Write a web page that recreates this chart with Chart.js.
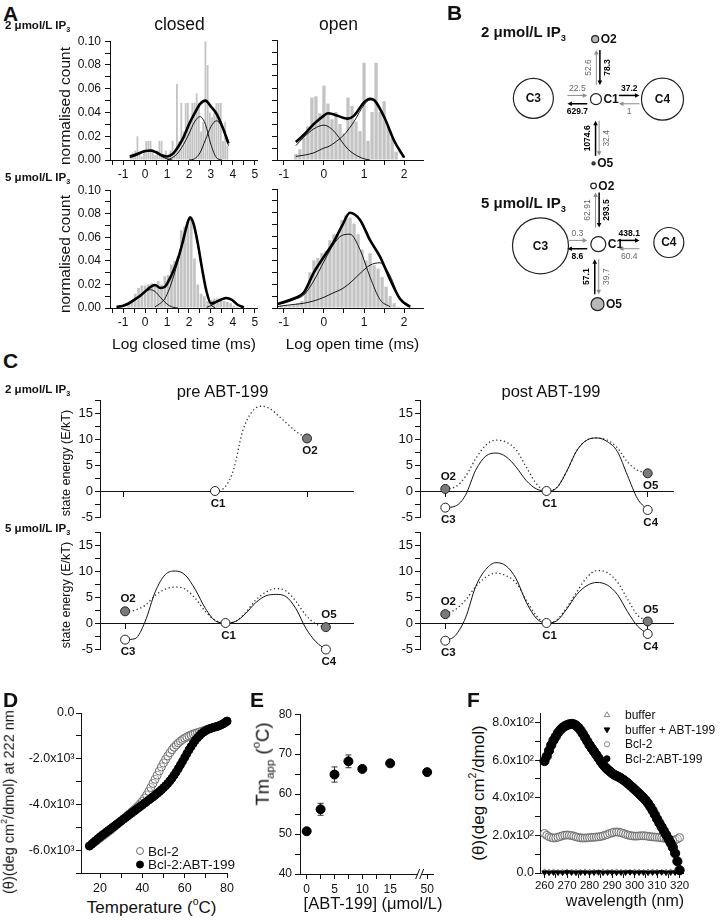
<!DOCTYPE html>
<html>
<head>
<meta charset="utf-8">
<script src="https://cdn.jsdelivr.net/npm/chart.js@4.4.1/dist/chart.umd.min.js"></script>
<style>
  html, body { margin: 0; padding: 0; background: #fff; }
  body { position: relative; width: 721px; height: 922px; overflow: hidden; font-family: "Liberation Sans", Arial, sans-serif; color: #111; }
  canvas { position: absolute; }
  .t { position: absolute; white-space: nowrap; line-height: 1; }
  .sb { font-size: 62%; position: relative; top: 0.4em; }
  .sp { font-size: 62%; position: relative; top: -0.75em; }
</style>
</head>
<body>
<script>
// --- A: dwell-time histograms (log10 dwell time, ms) ---
const closed2BinX = [-0.65, -0.55, -0.45, -0.35, -0.25, -0.15, -0.05, 0.05, 0.15, 0.25, 0.35, 0.45, 0.55, 0.65, 0.75, 0.85, 0.95, 1.05, 1.15, 1.25, 1.35, 1.45, 1.55, 1.65, 1.75, 1.85, 1.95, 2.05, 2.15, 2.25, 2.35, 2.45, 2.55, 2.65, 2.75, 2.85, 2.95, 3.05, 3.15, 3.25, 3.35, 3.45, 3.55, 3.65, 3.75];
const closed2BinY = [0.005, 0.006, 0.008, 0.020, 0.006, 0.003, 0.008, 0.016, 0.016, 0.016, 0.008, 0.004, 0.008, 0.016, 0.016, 0.004, 0.008, 0.004, 0.008, 0.016, 0.008, 0.064, 0.016, 0.048, 0.024, 0.048, 0.048, 0.032, 0.048, 0.048, 0.056, 0.048, 0.024, 0.032, 0.100, 0.080, 0.040, 0.036, 0.040, 0.048, 0.048, 0.048, 0.016, 0.032, 0.012];
const closed2FitX = [-0.7, -0.5, -0.25, 0, 0.25, 0.5, 0.75, 1.0, 1.25, 1.5, 1.75, 2.0, 2.25, 2.5, 2.75, 3.0, 3.25, 3.5, 3.8];
const closed2Total = [0.003, 0.004, 0.006, 0.0075, 0.008, 0.0065, 0.004, 0.003, 0.005, 0.011, 0.019, 0.030, 0.039, 0.047, 0.050, 0.045, 0.039, 0.029, 0.014];
const closed2Comp1 = [0.002, 0.003, 0.005, 0.007, 0.0075, 0.006, 0.003, 0.001, 0, null, null, null, null, null, null, null, null, null, null];
const closed2Comp2 = [null, null, null, null, null, null, null, 0, 0.002, 0.006, 0.013, 0.022, 0.032, 0.0365, 0.030, 0.013, 0.002, 0, null];
const closed2Comp3 = [null, null, null, null, null, null, null, null, null, null, null, 0, 0.001, 0.006, 0.017, 0.028, 0.033, 0.028, 0.012];

const open2BinX = [-0.7, -0.6, -0.5, -0.4, -0.3, -0.2, -0.1, 0, 0.1, 0.2, 0.3, 0.4, 0.5, 0.6, 0.7, 0.8, 0.9, 1.0, 1.1, 1.2, 1.3, 1.4, 1.5, 1.6, 1.7, 1.8];
const open2BinY = [0.005, 0.009, 0.0185, 0.028, 0.052, 0.053, 0.039, 0.062, 0.047, 0.034, 0.040, 0.030, 0.022, 0.052, 0.045, 0.032, 0.024, 0.081, 0.016, 0.040, 0.081, 0.040, 0.049, 0.028, 0.018, 0.007];
const open2FitX = [-0.7, -0.5, -0.25, 0, 0.1, 0.25, 0.5, 0.6, 0.75, 1.0, 1.15, 1.25, 1.5, 1.75, 2.0];
const open2Total = [0.015, 0.021, 0.030, 0.037, 0.039, 0.038, 0.035, 0.0345, 0.037, 0.048, 0.051, 0.050, 0.036, 0.016, 0.002];
const open2Comp1 = [0.012, 0.019, 0.026, 0.029, 0.028, 0.024, 0.013, 0.009, 0.005, 0.001, 0, null, null, null, null];
const open2Comp2 = [0.003, 0.004, 0.006, 0.010, 0.011, 0.014, 0.021, 0.025, 0.032, 0.046, 0.050, 0.050, 0.036, 0.016, 0.002];

const closed5BinX = [-0.75, -0.6, -0.45, -0.3, -0.15, 0, 0.15, 0.3, 0.45, 0.6, 0.75, 0.9, 1.05, 1.2, 1.35, 1.5, 1.65, 1.8, 1.95, 2.1, 2.25, 2.4, 2.55, 2.7, 2.85, 3.0, 3.15, 3.3, 3.45, 3.6, 3.75, 3.9, 4.05, 4.2];
const closed5BinY = [0.003, 0.006, 0.012, 0.017, 0.019, 0.019, 0.020, 0.021, 0.020, 0.023, 0.020, 0.027, 0.028, 0.037, 0.040, 0.044, 0.066, 0.069, 0.071, 0.076, 0.042, 0.020, 0.012, 0.010, 0.006, 0.007, 0.008, 0.008, 0.007, 0.006, 0.005, 0.004, 0.002, 0.001];
const closed5FitX = [-1.3, -1.0, -0.75, -0.5, -0.25, 0, 0.25, 0.45, 0.7, 0.9, 1.1, 1.3, 1.5, 1.7, 1.9, 2.05, 2.2, 2.4, 2.6, 2.8, 3.0, 3.2, 3.45, 3.7, 3.95, 4.2, 4.5];
const closed5Total = [0.001, 0.002, 0.004, 0.007, 0.010, 0.014, 0.018, 0.0195, 0.017, 0.018, 0.024, 0.032, 0.042, 0.055, 0.070, 0.077, 0.072, 0.055, 0.033, 0.014, 0.004, 0.005, 0.007, 0.0085, 0.007, 0.003, 0.0005];
const closed5Comp1 = [0.0005, 0.0015, 0.003, 0.006, 0.010, 0.014, 0.0155, 0.014, 0.009, 0.005, 0.002, 0.0005, 0, null, null, null, null, null, null, null, null, null, null, null, null, null, null];
const closed5Comp2 = [null, null, null, null, null, null, null, 0.001, 0.004, 0.008, 0.016, 0.027, 0.040, 0.054, 0.069, 0.076, 0.071, 0.054, 0.032, 0.013, 0.003, 0, null, null, null, null, null];
const closed5Comp3 = [null, null, null, null, null, null, null, null, null, null, null, null, null, null, null, null, null, null, null, 0.0005, 0.002, 0.004, 0.007, 0.008, 0.0065, 0.003, 0.0005];

const open5BinX = [-1.05, -0.95, -0.85, -0.75, -0.65, -0.55, -0.45, -0.35, -0.25, -0.15, -0.05, 0.05, 0.15, 0.25, 0.35, 0.45, 0.55, 0.65, 0.75, 0.85, 0.95, 1.05, 1.15, 1.25, 1.35, 1.45, 1.55, 1.65, 1.75, 1.85];
const open5BinY = [0.002, 0.002, 0.002, 0.003, 0.004, 0.006, 0.014, 0.030, 0.040, 0.042, 0.046, 0.048, 0.057, 0.062, 0.062, 0.074, 0.078, 0.076, 0.071, 0.062, 0.049, 0.040, 0.046, 0.036, 0.033, 0.026, 0.018, 0.010, 0.004, 0.001];
const open5FitX = [-1.2, -1.0, -0.75, -0.5, -0.25, 0, 0.25, 0.45, 0.65, 0.9, 1.15, 1.4, 1.65, 1.9, 2.15];
const open5Total = [0.003, 0.005, 0.008, 0.013, 0.030, 0.043, 0.056, 0.069, 0.080, 0.074, 0.057, 0.043, 0.024, 0.0075, 0.001];
const open5Comp1 = [0.003, 0.004, 0.007, 0.011, 0.023, 0.039, 0.054, 0.061, 0.062, 0.049, 0.026, 0.007, 0.001, null, null];
const open5Comp2 = [0.001, 0.002, 0.003, 0.004, 0.006, 0.009, 0.013, 0.016, 0.021, 0.029, 0.036, 0.038, 0.027, 0.007, 0.0005];

const countTicks = [0, 0.01, 0.02, 0.03, 0.04, 0.05, 0.06, 0.07, 0.08, 0.09, 0.1];
const countLabels = [0, 0.02, 0.04, 0.06, 0.08, 0.1];
const closedTicks = [-1.5, -1, -0.5, 0, 0.5, 1, 1.5, 2, 2.5, 3, 3.5, 4, 4.5, 5];
const closedLabels = [-1, 0, 1, 2, 3, 4, 5];
const openTicks = [-1, -0.5, 0, 0.5, 1, 1.5, 2];
const openLabels = [-1, 0, 1, 2];

// --- B: rate constants (s-1), C1 <-> partner ---
const partners = ['O2', 'C3', 'C4', 'O5'];
const fromC1at2 = [52.6, 629.7, 37.2, 32.4];
const toC1at2 = [78.3, 22.5, 1, 1074.6];
const fromC1at5 = [62.91, 8.6, 438.1, 39.7];
const toC1at5 = [293.5, 0.3, 60.4, 57.1];

// --- C: free-energy landscapes (E/kT) ---
const pre2Names = ['C1', 'O2'];
const pre2Coord = [0, 1];
const pre2Energy = [0, 10.1];
const stateNames = ['O2', 'C3', 'C1', 'O5', 'C4'];
const stateCoord = [-1, -1, 0, 1, 1];
const post2Energy = [0.4, -3.2, 0, 3.4, -3.65];
const pre5Energy = [2.25, -3.2, 0, -0.8, -5.1];
const post5Energy = [1.7, -3.4, 0, 0.3, -2.1];
const pathX = [-1, -0.9, -0.8, -0.7, -0.6, -0.5, -0.4, -0.3, -0.2, -0.1, 0, 0.1, 0.2, 0.3, 0.4, 0.5, 0.6, 0.7, 0.8, 0.9, 1];
const pre2OpenPath = [null, null, null, null, null, null, null, null, null, null, 0, 0.6, 4.0, 11.5, 15.2, 16.3, 15.8, 14.3, 12.7, 11.2, 10.1];
const post2ClosedPath = [-3.2, -2.9, -0.8, 4.0, 6.7, 7.3, 6.6, 4.6, 2.0, 0.4, 0, 0.6, 3.8, 7.8, 9.8, 10.2, 9.5, 7.6, 3.0, -1.5, -3.65];
const post2OpenPath = [0.4, 0.8, 2.8, 6.2, 8.8, 9.8, 9.4, 7.9, 4.6, 1.4, 0, 0.6, 3.8, 7.8, 9.8, 10.2, 9.8, 8.3, 5.6, 4.0, 3.4];
const pre5ClosedPath = [-3.2, -3.0, 0.3, 6.0, 9.3, 10.0, 9.2, 6.4, 2.8, 0.4, 0, 0.3, 1.8, 3.9, 5.2, 5.5, 5.1, 2.8, -1.0, -3.6, -5.1];
const pre5OpenPath = [2.25, 2.5, 3.4, 5.3, 6.5, 6.9, 6.5, 4.7, 2.2, 0.5, 0, 0.3, 2.0, 4.4, 5.9, 6.6, 6.2, 4.2, 1.5, -0.2, -0.8];
const post5ClosedPath = [-3.4, -2.4, 1.0, 7.0, 10.3, 11.6, 11.0, 8.5, 4.0, 0.9, 0, 0.4, 2.7, 5.5, 7.2, 7.8, 7.3, 5.5, 2.2, -0.6, -2.1];
const post5OpenPath = [1.7, 2.6, 4.4, 7.0, 8.8, 9.6, 9.1, 7.7, 4.4, 1.4, 0, 0.6, 3.0, 6.0, 8.8, 10.1, 9.7, 7.9, 4.6, 1.5, 0.3];
const energyTicks = [-5, -2.5, 0, 2.5, 5, 7.5, 10, 12.5, 15, 17.5];
const energyLabels = [-5, 0, 5, 10, 15];

// --- D: thermal melt at 222 nm ---
const dTemp = [15, 16, 17, 18, 19, 20, 21, 22, 23, 24, 25, 26, 27, 28, 29, 30, 31, 32, 33, 34, 35, 36, 37, 38, 39, 40, 41, 42, 43, 44, 45, 46, 47, 48, 49, 50, 51, 52, 53, 54, 55, 56, 57, 58, 59, 60, 61, 62, 63, 64, 65, 66, 67, 68, 69, 70, 71, 72, 73, 74, 75, 76, 77, 78, 79, 80];
const dBcl2 = [-5820, -5750, -5680, -5610, -5540, -5470, -5400, -5330, -5260, -5190,
  -5120, -5040, -4960, -4880, -4800, -4720, -4640, -4560, -4480, -4400,
  -4320, -4240, -4160, -4070, -3970, -3860, -3730, -3590, -3430, -3260,
  -3080, -2900, -2720, -2540, -2360, -2190, -2030, -1880, -1740, -1610,
  -1500, -1400, -1310, -1230, -1160, -1100, -1050, -1000, -960, -920,
  -890, -860, -830, -800, -770, -740, -710, -680, -650, -620,
  -590, -560, -520, -480, -430, -380];
const dBcl2Abt = [-5820, -5740, -5660, -5580, -5500, -5420, -5350, -5280, -5210, -5140,
  -5070, -5000, -4930, -4860, -4790, -4720, -4650, -4580, -4510, -4440,
  -4370, -4300, -4230, -4160, -4090, -4020, -3950, -3880, -3810, -3740,
  -3670, -3600, -3520, -3440, -3360, -3270, -3180, -3080, -2970, -2850,
  -2720, -2580, -2430, -2270, -2110, -1950, -1780, -1620, -1470, -1330,
  -1200, -1090, -990, -900, -830, -770, -720, -680, -650, -620,
  -600, -570, -530, -480, -420, -350];
const dTicksY = [-7000, -6000, -5000, -4000, -3000, -2000, -1000, 0];
const dLabelsY = [-6000, -4000, -2000, 0];
const dTicksX = [20, 30, 40, 50, 60, 70, 80];
const dLabelsX = [20, 40, 60, 80];

// --- E: apparent Tm vs ABT-199 ---
const eConc = [0, 2.5, 5, 7.5, 10, 15, 50];
const eTm = [50.7, 56.2, 64.9, 68.2, 66.3, 67.7, 65.5];
const eErr = [0.5, 1.5, 1.9, 1.6, 0.4, 0.4, 0.4];
const eLabelsX = [0, 5, 10, 15, 50];
const eTicksY = [40, 45, 50, 55, 60, 65, 70, 75, 80];
const eLabelsY = [40, 50, 60, 70, 80];

// --- F: near-UV CD spectra ---
const fWave = [260, 261, 262, 263, 264, 265, 266, 267, 268, 269, 270, 271, 272, 273, 274, 275, 276, 277, 278, 279, 280, 281, 282, 283, 284, 285, 286, 287, 288, 289, 290, 291, 292, 293, 294, 295, 296, 297, 298, 299, 300, 301, 302, 303, 304, 305, 306, 307, 308, 309, 310, 311, 312, 313, 314, 315, 316, 317, 318, 319, 320];
const fBcl2Abt = [595, 620, 650, 680, 705, 725, 745, 760, 772, 780, 786, 790, 792, 790, 784, 773, 758, 740, 720, 700,
  680, 662, 645, 628, 610, 592, 576, 562, 550, 540, 530, 522, 516, 510, 503, 495, 486, 476, 466, 455,
  444, 433, 422, 410, 398, 385, 370, 352, 332, 310, 287, 266, 245, 224, 203, 182, 160, 136, 105, 62, 15];
const fBcl2 = [210, 200, 193, 188, 186, 187, 190, 194, 198, 201, 202, 201, 199, 196, 192, 189, 187, 186, 186, 187,
  188, 189, 190, 191, 192, 194, 197, 201, 205, 210, 214, 217, 218, 217, 214, 210, 206, 202, 199, 197,
  196, 196, 197, 198, 198, 197, 195, 193, 192, 191, 190, 189, 187, 185, 182, 178, 175, 174, 176, 181, 188];
const fWaveBuffer = [260, 262, 264, 266, 268, 270, 272, 274, 276, 278, 280, 282, 284, 286, 288, 290, 292, 294, 296, 298, 300, 302, 304, 306, 308, 310, 312, 314, 316, 318, 320];
const fBuffer = [6, 5, 6, 4, 5, 6, 5, 4, 5, 6, 5, 5, 4, 6, 5, 5, 6, 4, 5, 5, 6, 5, 4, 5, 6, 5, 5, 4, 6, 5, 5];
const fBufferAbt = [3, 2, 3, 3, 2, 4, 3, 2, 3, 3, 2, 3, 4, 2, 3, 3, 2, 3, 3, 4, 2, 3, 3, 2, 3, 3, 4, 2, 3, 3, 2];
const fTicksY = [0, 100, 200, 300, 400, 500, 600, 700, 800];
const fLabelsY = [0, 200, 400, 600, 800];
const fTicksX = [260, 265, 270, 275, 280, 285, 290, 295, 300, 305, 310, 315, 320];
const fLabelsX = [260, 270, 280, 290, 300, 310, 320];

// --- helpers ---
const FONT = '"Liberation Sans", Arial, sans-serif';
Chart.defaults.font.family = FONT;
Chart.defaults.color = '#111';
Chart.defaults.plugins.legend.display = false;
Chart.defaults.plugins.tooltip.enabled = false;

function txt(html, x, base, size, bold, center) {
  const d = document.createElement('div');
  d.className = 't';
  d.innerHTML = html;
  d.style.fontSize = size + 'px';
  if (bold) d.style.fontWeight = 'bold';
  d.style.left = x + 'px';
  d.style.top = (base - 0.85 * size) + 'px';
  if (center) d.style.transform = 'translateX(-50%)';
  document.body.appendChild(d);
}

function vtxt(html, cx, cy, size) {
  const d = document.createElement('div');
  d.className = 't';
  d.innerHTML = html;
  d.style.fontSize = size + 'px';
  d.style.left = cx + 'px';
  d.style.top = cy + 'px';
  d.style.transform = 'translate(-50%,-50%) rotate(-90deg)';
  document.body.appendChild(d);
}

function lin(min, max, ticks, labels, fmt, size, pad, extra) {
  return Object.assign({
    type: 'linear', min: min, max: max,
    afterBuildTicks: s => { s.ticks = ticks.map(v => ({ value: v })); },
    ticks: {
      autoSkip: false, maxRotation: 0, minRotation: 0, padding: pad, color: '#111', font: { size: size },
      callback: v => labels.indexOf(v) >= 0 ? fmt(v) : ''
    },
    grid: { display: true, drawOnChartArea: false, drawTicks: true, tickLength: 5, color: '#111', lineWidth: 1, offset: false },
    border: { display: true, color: '#111', width: 1 }
  }, extra || {});
}

// box = chart area in page pixels, m = [top, right, bottom, left] room for axes
function plot(box, m, cfg) {
  const w = box[2] - box[0] + m[1] + m[3], h = box[3] - box[1] + m[0] + m[2];
  const cv = document.createElement('canvas');
  cv.width = w; cv.height = h;
  cv.style.left = (box[0] - m[3]) + 'px';
  cv.style.top = (box[1] - m[0]) + 'px';
  cv.style.width = w + 'px';
  cv.style.height = h + 'px';
  document.body.appendChild(cv);
  const o = cfg.options;
  o.responsive = false; o.animation = false; o.devicePixelRatio = 1; o.events = [];
  const floating = typeof o.scales.x.position === 'object';
  o.layout = { padding: { top: m[0], right: m[1], bottom: floating ? m[2] : 0, left: 0 } };
  o.scales.y.afterFit = s => { s.width = m[3]; };
  if (!floating) o.scales.x.afterFit = s => { s.height = m[2]; };
  return new Chart(cv, cfg);
}

// marker drawn at a page position (legends)
function legendMarks(items) {
  return {
    id: 'legendMarks',
    afterDraw(chart) {
      const ctx = chart.ctx;
      const ox = parseFloat(chart.canvas.style.left), oy = parseFloat(chart.canvas.style.top);
      items.forEach(it => {
        ctx.save();
        ctx.fillStyle = it.fill; ctx.strokeStyle = it.stroke; ctx.lineWidth = 1;
        Chart.helpers.drawPoint(ctx, { pointStyle: it.style, radius: it.r, rotation: it.rot || 0, borderWidth: 1 }, it.x - ox, it.y - oy);
        ctx.restore();
      });
    }
  };
}

// --- A ---
function histogram(box, m, binX, binY, fitX, curves, xr, xTicks, xLabels, showY) {
  const line = (ys, w) => ({
    type: 'line', data: fitX.map((x, i) => ({ x: x, y: ys[i] })), borderColor: '#000', borderWidth: w,
    pointRadius: 0, cubicInterpolationMode: 'monotone', fill: false
  });
  const yAxis = lin(0, 0.1, countTicks, countLabels, v => v.toFixed(2), 12, 4);
  yAxis.ticks.display = showY;
  return plot(box, m, {
    type: 'bar',
    data: {
      datasets: [line(curves[0], 2.6)].concat(curves.slice(1).map(c => line(c, 0.9))).concat([{
        type: 'bar', data: binX.map((x, i) => ({ x: x, y: binY[i] })), backgroundColor: '#c3c3c3',
        borderWidth: 0, barPercentage: 0.82, categoryPercentage: 1
      }])
    },
    options: {
      scales: {
        x: lin(xr[0], xr[1], xTicks, xLabels, v => String(v), 12, 2, { offset: false }),
        y: yAxis
      }
    }
  });
}

histogram([110, 40, 257, 160], [10, 14, 22, 42], closed2BinX, closed2BinY, closed2FitX,
  [closed2Total, closed2Comp1, closed2Comp2, closed2Comp3], [-1.6, 5.1], closedTicks, closedLabels, true);
histogram([277, 40, 423, 160], [10, 14, 22, 10], open2BinX, open2BinY, open2FitX,
  [open2Total, open2Comp1, open2Comp2], [-1.17, 2.47], openTicks, openLabels, false);
histogram([110, 189, 257, 308], [10, 14, 22, 42], closed5BinX, closed5BinY, closed5FitX,
  [closed5Total, closed5Comp1, closed5Comp2, closed5Comp3], [-1.6, 5.1], closedTicks, closedLabels, true);
histogram([277, 189, 423, 308], [10, 14, 22, 10], open5BinX, open5BinY, open5FitX,
  [open5Total, open5Comp1, open5Comp2], [-1.17, 2.47], openTicks, openLabels, false);

// --- B ---
// node layout: [x, y, radius, fill] in page pixels; arrows: [[x1, x2], [y1, y2]]
const scheme2 = {
  nodes: { C1: [600, 84, 5.5, '#fff'], O2: [599, 12, 3.5, '#b8b8b8'], C3: [521, 83, 20, '#fff'], C4: [684, 84, 21, '#fff'], O5: [597, 161, 1.6, '#555'] },
  arrows: { O2: [[600.5, 605], [25, 67]], C3: [[564, 589], [79.5, 89.5]], C4: [[629, 655], [79.5, 89.5]], O5: [[599.5, 604], [110, 152]] },
  out: fromC1at2, inn: toC1at2
};
const scheme5 = {
  nodes: { C1: [603, 258, 7.5, '#fff'], O2: [597, 188, 2.8, '#fff'], C3: [530, 260, 28, '#fff'], C4: [692, 256, 15, '#fff'], O5: [602, 330, 6.5, '#b8b8b8'] },
  arrows: { O2: [[599.5, 604], [196, 238]], C3: [[564, 589], [253.5, 263.5]], C4: [[629, 655], [253.5, 263.5]], O5: [[598.5, 603.5], [276, 318]] },
  out: fromC1at5, inn: toC1at5
};

function drawArrow(ctx, x1, y1, x2, y2, strong) {
  const c = strong ? '#000' : '#8c8c8c';
  ctx.strokeStyle = c; ctx.fillStyle = c;
  ctx.lineWidth = strong ? 1.5 : 1;
  const a = Math.atan2(y2 - y1, x2 - x1), cs = Math.cos(a), sn = Math.sin(a), hl = 4.5, hw = 2.3;
  ctx.beginPath(); ctx.moveTo(x1, y1); ctx.lineTo(x2 - cs * hl * 0.7, y2 - sn * hl * 0.7); ctx.stroke();
  ctx.beginPath(); ctx.moveTo(x2, y2);
  ctx.lineTo(x2 - cs * hl - sn * hw, y2 - sn * hl + cs * hw);
  ctx.lineTo(x2 - cs * hl + sn * hw, y2 - sn * hl - cs * hw);
  ctx.closePath(); ctx.fill();
}

function drawRate(ctx, value, x, y, strong, vertical) {
  ctx.save();
  ctx.font = (strong ? 'bold ' : '') + '8.5px ' + FONT;
  ctx.fillStyle = strong ? '#000' : '#666';
  ctx.textAlign = 'center'; ctx.textBaseline = 'middle';
  ctx.translate(x, y);
  if (vertical) ctx.rotate(-Math.PI / 2);
  ctx.fillText(String(value), 0, 0);
  ctx.restore();
}

const schemePlugin = {
  id: 'scheme',
  afterDatasetsDraw(chart) {
    const ctx = chart.ctx;
    const X = v => chart.scales.x.getPixelForValue(v), Y = v => chart.scales.y.getPixelForValue(v);
    ctx.save();
    [scheme2, scheme5].forEach(s => {
      ctx.fillStyle = '#111'; ctx.font = 'bold 12px ' + FONT; ctx.textBaseline = 'middle';
      Object.keys(s.nodes).forEach(name => {
        const n = s.nodes[name];
        if (n[2] > 12) { ctx.textAlign = 'center'; ctx.fillText(name, X(n[0]), Y(n[1]) + 0.5); }
        else { ctx.textAlign = 'left'; ctx.fillText(name, X(n[0]) + n[2] + 2, Y(n[1]) + 0.5); }
      });
      partners.forEach((p, i) => {
        const xs = s.arrows[p][0], ys = s.arrows[p][1];
        const fwd = (p === 'O2' || p === 'C4') ? s.out[i] : s.inn[i];
        const back = (p === 'O2' || p === 'C4') ? s.inn[i] : s.out[i];
        if (p[0] === 'O') {
          const ym = Y((ys[0] + ys[1]) / 2);
          drawArrow(ctx, X(xs[0]), Y(ys[1]), X(xs[0]), Y(ys[0]), fwd > back);
          drawArrow(ctx, X(xs[1]), Y(ys[0]), X(xs[1]), Y(ys[1]), back > fwd);
          drawRate(ctx, fwd, X(xs[0]) - 8, ym, fwd > back, true);
          drawRate(ctx, back, X(xs[1]) + 8, ym, back > fwd, true);
        } else {
          const xm = X((xs[0] + xs[1]) / 2);
          drawArrow(ctx, X(xs[0]), Y(ys[0]), X(xs[1]), Y(ys[0]), fwd > back);
          drawArrow(ctx, X(xs[1]), Y(ys[1]), X(xs[0]), Y(ys[1]), back > fwd);
          drawRate(ctx, fwd, xm, Y(ys[0]) - 7, fwd > back, false);
          drawRate(ctx, back, xm, Y(ys[1]) + 7.5, back > fwd, false);
        }
      });
    });
    ctx.restore();
  }
};

const bubbleSet = s => ({
  data: Object.keys(s.nodes).map(k => ({ x: s.nodes[k][0], y: s.nodes[k][1], r: s.nodes[k][2] })),
  backgroundColor: Object.keys(s.nodes).map(k => s.nodes[k][3]),
  borderColor: '#222', borderWidth: 1.2, clip: false
});
plot([440, 0, 721, 350], [0, 0, 0, 0], {
  type: 'bubble',
  data: { datasets: [bubbleSet(scheme2), bubbleSet(scheme5)] },
  options: {
    scales: {
      x: { type: 'linear', display: false, min: 440, max: 721 },
      y: { type: 'linear', display: false, min: 0, max: 350, reverse: true }
    }
  },
  plugins: [schemePlugin]
});

// --- C ---
function landscape(box, xr, names, coord, energy, closedPath, openPath, above) {
  const path = (ys, dotted) => ({
    type: 'line', data: pathX.map((x, i) => ({ x: x, y: ys[i] })),
    borderColor: dotted ? '#333' : '#111', borderWidth: dotted ? 1.3 : 1, borderDash: dotted ? [1.3, 2.6] : [],
    pointRadius: 0, cubicInterpolationMode: 'monotone', fill: false
  });
  const sets = [{
    type: 'scatter', data: coord.map((x, i) => ({ x: x, y: energy[i] })), pointRadius: 4.5,
    pointBackgroundColor: names.map(n => n[0] === 'O' ? '#7a7a7a' : '#fff'),
    pointBorderColor: '#222', pointBorderWidth: 1, clip: false
  }];
  if (closedPath) sets.push(path(closedPath, false));
  sets.push(path(openPath, true));
  const xAxis = lin(xr[0], xr[1], [-1, 1], [], v => '', 12, 0, { position: { y: 0 } });
  xAxis.ticks.display = false;
  const labelPlugin = {
    id: 'stateLabels',
    afterDatasetsDraw(chart) {
      const ctx = chart.ctx;
      ctx.save();
      ctx.font = 'bold 11.5px ' + FONT; ctx.fillStyle = '#111'; ctx.textAlign = 'center'; ctx.textBaseline = 'middle';
      names.forEach((n, i) => {
        const px = chart.scales.x.getPixelForValue(coord[i]), py = chart.scales.y.getPixelForValue(energy[i]);
        ctx.fillText(n, px + 3, py + (above.indexOf(n) >= 0 ? -12 : 12.5));
      });
      ctx.restore();
    }
  };
  return plot(box, [10, 10, 22, 45], {
    type: 'scatter',
    data: { datasets: sets },
    options: { scales: { x: xAxis, y: lin(-5, 17.5, energyTicks, energyLabels, v => String(v), 13, 2) } },
    plugins: [labelPlugin]
  });
}

landscape([100, 400, 353, 517], [-1.25, 1.5], pre2Names, pre2Coord, pre2Energy, null, pre2OpenPath, []);
landscape([420, 400, 673, 517], [-1.25, 1.25], stateNames, stateCoord, post2Energy, post2ClosedPath, post2OpenPath, ['O2']);
landscape([100, 532, 353, 649], [-1.25, 1.27], stateNames, stateCoord, pre5Energy, pre5ClosedPath, pre5OpenPath, ['O2', 'O5']);
landscape([420, 532, 673, 649], [-1.25, 1.25], stateNames, stateCoord, post5Energy, post5ClosedPath, post5OpenPath, ['O2', 'O5']);

// --- D ---
plot([81, 713, 227, 873], [10, 12, 22, 56], {
  type: 'scatter',
  data: {
    datasets: [
      { data: dTemp.map((t, i) => ({ x: t, y: dBcl2Abt[i] })), pointRadius: 4, pointBackgroundColor: '#000', pointBorderColor: '#000', pointBorderWidth: 1, clip: false },
      { data: dTemp.map((t, i) => ({ x: t, y: dBcl2[i] })), pointRadius: 4, pointBackgroundColor: 'rgba(255,255,255,0.35)', pointBorderColor: '#6e6e6e', pointBorderWidth: 1, clip: false }
    ]
  },
  options: {
    scales: {
      x: lin(11, 80, dTicksX, dLabelsX, v => String(v), 12.5, 3),
      y: lin(-7000, 0, dTicksY, dLabelsY, v => v === 0 ? '0.0' : (v / 1000).toFixed(1) + 'x10³', 12.5, 1.5)
    }
  },
  plugins: [legendMarks([
    { x: 140, y: 851, r: 3.5, style: 'circle', fill: '#fff', stroke: '#6e6e6e' },
    { x: 140, y: 864.5, r: 3.5, style: 'circle', fill: '#000', stroke: '#000' }
  ])]
});

// --- E ---
const brk = c => c <= 15 ? c : 15 + (c - 15) * 0.19;
const eTickPos = eLabelsX.map(brk);
const errorBars = {
  id: 'errorBars',
  beforeDatasetsDraw(chart) {
    const ctx = chart.ctx, meta = chart.getDatasetMeta(0), ys = chart.scales.y;
    ctx.save();
    ctx.strokeStyle = '#333'; ctx.lineWidth = 1;
    meta.data.forEach((pt, i) => {
      const t = ys.getPixelForValue(eTm[i] + eErr[i]), b = ys.getPixelForValue(eTm[i] - eErr[i]);
      ctx.beginPath();
      ctx.moveTo(pt.x, t); ctx.lineTo(pt.x, b);
      ctx.moveTo(pt.x - 3, t); ctx.lineTo(pt.x + 3, t);
      ctx.moveTo(pt.x - 3, b); ctx.lineTo(pt.x + 3, b);
      ctx.stroke();
    });
    ctx.restore();
  }
};
const axisBreak = {
  id: 'axisBreak',
  afterDraw(chart) {
    const ctx = chart.ctx, x = chart.scales.x.getPixelForValue(20.3), y = chart.scales.y.bottom;
    ctx.save();
    ctx.fillStyle = '#fff'; ctx.fillRect(x - 2, y - 1.5, 4, 3);
    ctx.strokeStyle = '#111'; ctx.lineWidth = 1;
    [-2, 2].forEach(d => {
      ctx.beginPath(); ctx.moveTo(x + d - 2, y + 5); ctx.lineTo(x + d + 2, y - 5); ctx.stroke();
    });
    ctx.restore();
  }
};
plot([300, 714, 433, 874], [10, 12, 22, 34], {
  type: 'scatter',
  data: { datasets: [{ data: eConc.map((c, i) => ({ x: brk(c), y: eTm[i] })), pointRadius: 4.5, pointBackgroundColor: '#000', pointBorderColor: '#000', clip: false }] },
  options: {
    scales: {
      x: lin(-1.2, 22.7, [0, 2.5, 5, 7.5, 10, 12.5, 15, eTickPos[4]], eTickPos, v => String(eLabelsX[eTickPos.indexOf(v)]), 12, 3),
      y: lin(40, 80, eTicksY, eLabelsY, v => String(v), 12, 3)
    }
  },
  plugins: [errorBars, axisBreak]
});

// --- F ---
plot([540, 713, 683, 873], [10, 12, 22, 52], {
  type: 'scatter',
  data: {
    datasets: [
      { data: fWave.map((w, i) => ({ x: w, y: fBcl2Abt[i] })), pointRadius: 4.6, pointBackgroundColor: '#000', pointBorderColor: '#000', clip: false },
      { data: fWave.map((w, i) => ({ x: w, y: fBcl2[i] })), pointRadius: 4, pointBackgroundColor: 'rgba(255,255,255,0.35)', pointBorderColor: '#6e6e6e', pointBorderWidth: 1, clip: false },
      { data: fWaveBuffer.map((w, i) => ({ x: w, y: fBufferAbt[i] })), pointStyle: 'triangle', rotation: 180, pointRadius: 3, pointBackgroundColor: '#000', pointBorderColor: '#000', clip: false },
      { data: fWaveBuffer.map((w, i) => ({ x: w, y: fBuffer[i] })), pointStyle: 'triangle', pointRadius: 3, pointBackgroundColor: '#fff', pointBorderColor: '#777', clip: false }
    ]
  },
  options: {
    scales: {
      x: lin(258, 321.5, fTicksX, fLabelsX, v => String(v), 11.5, 1),
      y: lin(0, 850, fTicksY, fLabelsY, v => v === 0 ? '0.0' : (v / 100).toFixed(1) + 'x10²', 12.5, 1)
    }
  },
  plugins: [legendMarks([
    { x: 607, y: 715, r: 3.2, style: 'triangle', fill: '#fff', stroke: '#888' },
    { x: 607, y: 729.5, r: 3.2, style: 'triangle', rot: 180, fill: '#000', stroke: '#000' },
    { x: 607, y: 744.3, r: 2.6, style: 'circle', fill: '#fff', stroke: '#888' },
    { x: 607, y: 758.7, r: 3, style: 'circle', fill: '#000', stroke: '#000' }
  ])]
});

// --- text ---
txt('A', 3, 20.5, 21, true);
txt('B', 447, 20, 21, true);
txt('C', 3, 368, 21, true);
txt('D', 3, 706.5, 21, true);
txt('E', 250, 706.5, 21, true);
txt('F', 467, 706.5, 21, true);

const ip3 = c => c + ' μmol/L IP<span class="sb">3</span>';
txt(ip3(2), 5, 30, 11.5, true);
txt(ip3(5), 5, 181.5, 11.5, true);
txt(ip3(2), 481, 37, 15, true);
txt(ip3(5), 481, 208, 15, true);
txt(ip3(2), 5, 394, 11.5, true);
txt(ip3(5), 5, 533, 11.5, true);

txt('closed', 179.5, 31, 17.5, false, true);
txt('open', 338.5, 31, 17.5, false, true);
vtxt('normalised count', 65, 106, 15.5);
vtxt('normalised count', 65, 254, 15.5);
txt('Log closed time (ms)', 184, 349, 15.5, false, true);
txt('Log open time (ms)', 352.5, 349, 15.5, false, true);

txt('pre ABT-199', 222.5, 397, 16.5, false, true);
txt('post ABT-199', 551, 397, 16.5, false, true);
vtxt('state energy (E/kT)', 66, 463, 12.5);
vtxt('state energy (E/kT)', 66, 595, 12.5);

vtxt('(θ)(deg cm<span class="sp">2</span>/dmol) at 222 nm', 9, 802, 14.5);
txt('Temperature (<span class="sp">o</span>C)', 151.7, 913, 17, false, true);
txt('Bcl-2', 148, 856, 13.5);
txt('Bcl-2:ABT-199', 148, 869.5, 13.5);

vtxt('Tm<span class="sb">app</span> (<span class="sp">o</span>C)', 263, 764, 18.5);
txt('[ABT-199] (μmol/L)', 373, 909, 16.5, false, true);

vtxt('(θ)(deg cm<span class="sp">2</span>/dmol)', 478, 793, 17);
txt('wavelength (nm)', 625, 907, 16, false, true);
txt('buffer', 625, 719.5, 12);
txt('buffer + ABT-199', 625, 734, 12);
txt('Bcl-2', 625, 748.5, 12);
txt('Bcl-2:ABT-199', 625, 763, 12);
</script>
</body>
</html>
